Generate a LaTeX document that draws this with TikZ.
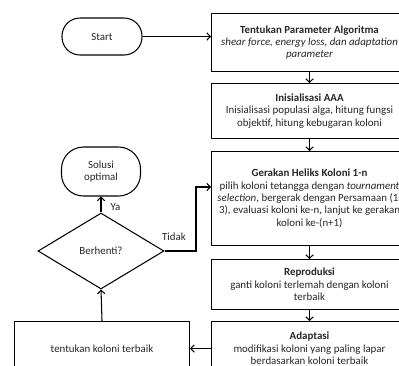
\documentclass[tikz,border=0pt]{standalone}
\usepackage{fontspec}
\setmainfont{Carlito}
\usetikzlibrary{arrows.meta,shapes.geometric}
\begin{document}
\begin{tikzpicture}[x=1pt,y=-1pt,line width=1.05pt,
  every node/.style={font=\fontsize{10.9}{12.4}\selectfont, text=black!85},
  stepbox/.style={draw, rectangle, anchor=north west, align=center, inner sep=0pt},
  term/.style={draw, rectangle, rounded corners=18pt, align=center, inner sep=0pt},
  decide/.style={draw, diamond, inner sep=0pt, minimum width=126pt, minimum height=76pt},
  arr/.style={-{Straight Barb[length=3.5pt,width=7.5pt]}},
  lbl/.style={inner sep=0pt}]
\useasboundingbox (0,0) rectangle (399,365);
\clip (0,0) rectangle (399,365);

\node[term, minimum width=80pt, minimum height=37pt] (start) at (102,36.5) {Start};
\node[stepbox, minimum width=196pt, minimum height=58pt] (b1) at (211,13)
  {\textbf{Tentukan Parameter Algoritma}\\\textit{shear force, energy loss, dan adaptation}\\\textit{parameter}};
\node[stepbox, minimum width=196pt, minimum height=55pt] (b2) at (211,83)
  {\textbf{Inisialisasi AAA}\\Inisialisasi populasi alga, hitung fungsi\\objektif, hitung kebugaran koloni};
\node[stepbox, minimum width=196pt, minimum height=94pt] (b3) at (211,151)
  {\textbf{Gerakan Heliks Koloni 1-n}\\pilih koloni tetangga dengan \textit{tournament}\\\textit{selection}, bergerak dengan Persamaan (1-\\3), evaluasi koloni ke-n, lanjut ke gerakan\\koloni ke-(n+1)};
\node[stepbox, minimum width=196pt, minimum height=50pt] (b4) at (211,259)
  {\textbf{Reproduksi}\\ganti koloni terlemah dengan koloni\\terbaik};
\node[stepbox, minimum width=196pt, minimum height=54pt] (b5) at (211,321)
  {\textbf{Adaptasi}\\modifikasi koloni yang paling lapar\\berdasarkan koloni terbaik};
\node[stepbox, minimum width=175pt, minimum height=54pt] (tk) at (14,321)
  {tentukan koloni terbaik};
\node[decide] (dia) at (101,251) {Berhenti?};
\node[term, minimum width=79pt, minimum height=49pt, rounded corners=22pt] (sol) at (101,171.5) {Solusi\\optimal};
\coordinate (tj) at (196,187);

\draw[arr] (start.east) -- (start.east -| b1.west);
\draw[arr] (b1.south) -- (b2.north);
\draw[arr] (b2.south) -- (b3.north);
\draw[arr] (b3.south) -- (b4.north);
\draw[arr] (b4.south) -- (b5.north);
\draw[arr] (b5.west) -- (tk.east);
\draw[arr] (tk.north) -- (dia.south);
\draw[arr] (dia.north) -- (sol.south) node[lbl, pos=0.35, right=9pt] {Ya};
\draw[arr] (dia.east) -| (tj) -- (tj -| b3.west);
\node[lbl] (tidak) at (174,237) {Tidak};
\end{tikzpicture}
\end{document}
